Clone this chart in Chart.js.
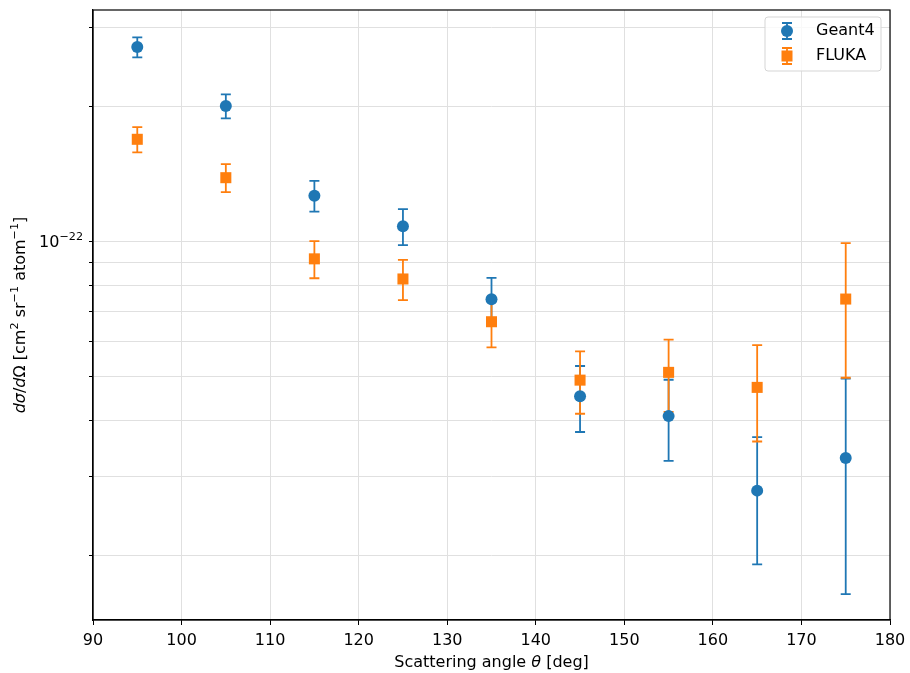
<!DOCTYPE html>
<html>
<head>
<meta charset="utf-8">
<script src="https://cdn.jsdelivr.net/npm/chart.js@4.4.1/dist/chart.umd.min.js"></script>
<style>
  html, body { margin: 0; padding: 0; background: #fff; }
</style>
</head>
<body>
<canvas id="myChart" width="910" height="673"></canvas>
<script>
// scattering angles (deg)
const angles = [95, 105, 115, 125, 135, 145, 155, 165, 175]

// Geant4 values and errors (cm^2 sr^-1 atom^-1)
const geant4 = [2.72e-22, 2.01e-22, 1.268e-22, 1.084e-22, 7.45e-23, 4.53e-23, 4.09e-23, 2.79e-23, 3.30e-23]
const geant4Err = [1.4e-23, 1.24e-23, 1.0e-23, 1.0e-23, 8.7e-24, 7.6e-24, 8.4e-24, 8.8e-24, 1.66e-23]

// FLUKA values and errors
const fluka = [1.694e-22, 1.391e-22, 9.17e-23, 8.27e-23, 6.64e-23, 4.92e-23, 5.12e-23, 4.74e-23, 7.46e-23]
const flukaErr = [1.1e-23, 1.0e-23, 8.7e-24, 8.5e-24, 8.2e-24, 7.8e-24, 9.4e-24, 1.15e-23, 2.48e-23]

// axis ticks
const xTicks = [90, 100, 110, 120, 130, 140, 150, 160, 170, 180]
const yTicks = [2e-23, 3e-23, 4e-23, 5e-23, 6e-23, 7e-23, 8e-23, 9e-23, 1e-22, 2e-22, 3e-22]
const yMajor = 1e-22
const yMajorLabel = [{ t: '10' }, { t: '−22', sup: true }]

const FONT = '"DejaVu Sans", sans-serif'
const SIZE = 16
const BLUE = '#1f77b4'
const ORANGE = '#ff7f0e'

function points(ys) {
    return angles.map((a, i) => ({ x: a, y: ys[i] }))
}

// error bars, drawn under the markers
const errorBars = {
    id: 'errorBars',
    beforeDatasetsDraw(chart) {
        const ctx = chart.ctx
        const xs = chart.scales.x, ys = chart.scales.y
        chart.data.datasets.forEach(ds => {
            ctx.save()
            ctx.strokeStyle = ds.borderColor
            ctx.lineWidth = 1.8
            ds.data.forEach((p, j) => {
                const e = ds.errors[j]
                const px = xs.getPixelForValue(p.x)
                const top = ys.getPixelForValue(p.y + e)
                const bot = ys.getPixelForValue(p.y - e)
                ctx.beginPath()
                ctx.moveTo(px, top); ctx.lineTo(px, bot)
                ctx.moveTo(px - 5, top); ctx.lineTo(px + 5, top)
                ctx.moveTo(px - 5, bot); ctx.lineTo(px + 5, bot)
                ctx.stroke()
            })
            ctx.restore()
        })
    }
}

function runFont(r, size) {
    return (r.it ? 'italic ' : '') + (r.sup ? size * 0.7 : size) + 'px ' + FONT
}

// draws mixed italic / superscript text; align 'center' or 'right' around x=0
function drawRuns(ctx, runs, size, align) {
    let w = 0
    runs.forEach(r => { ctx.font = runFont(r, size); r.w = ctx.measureText(r.t).width; w += r.w })
    let x = align === 'right' ? -w : -w / 2
    runs.forEach(r => {
        ctx.font = runFont(r, size)
        ctx.fillText(r.t, x, r.sup ? -size * 0.36 : 0)
        x += r.w
    })
}

const xTitle = [{ t: 'Scattering angle ' }, { t: 'θ', it: true }, { t: ' [deg]' }]
const yTitle = [
    { t: 'dσ', it: true }, { t: '/' }, { t: 'd', it: true }, { t: 'Ω' },
    { t: ' [cm' }, { t: '2', sup: true }, { t: ' sr' }, { t: '−1', sup: true },
    { t: ' atom' }, { t: '−1', sup: true }, { t: ']' }
]

// frame, axis titles, major y label, legend
const decorations = {
    id: 'decorations',
    afterDraw(chart) {
        const ctx = chart.ctx
        const a = chart.chartArea
        ctx.save()
        ctx.strokeStyle = '#000'
        ctx.lineWidth = 1.2
        ctx.strokeRect(a.left, a.top, a.right - a.left, a.bottom - a.top)

        ctx.fillStyle = '#000'
        ctx.textBaseline = 'middle'
        ctx.textAlign = 'left'
        ctx.save()
        ctx.translate((a.left + a.right) / 2, 663)
        drawRuns(ctx, xTitle, SIZE, 'center')
        ctx.restore()
        ctx.save()
        ctx.translate(21, (a.top + a.bottom) / 2)
        ctx.rotate(-Math.PI / 2)
        drawRuns(ctx, yTitle, SIZE, 'center')
        ctx.restore()

        ctx.save()
        ctx.translate(a.left - 10, chart.scales.y.getPixelForValue(yMajor) + 1)
        drawRuns(ctx, yMajorLabel, SIZE, 'right')
        ctx.restore()

        // legend box
        const bx = 765, by = 17, bw = 116, bh = 54
        ctx.beginPath()
        ctx.roundRect(bx, by, bw, bh, 3)
        ctx.fillStyle = 'rgba(255,255,255,0.8)'
        ctx.fill()
        ctx.strokeStyle = '#d5d5d5'
        ctx.lineWidth = 1
        ctx.stroke()

        chart.data.datasets.forEach((ds, i) => {
            const cy = 31 + i * 25
            const mx = 787
            ctx.strokeStyle = ds.borderColor
            ctx.lineWidth = 1.8
            ctx.beginPath()
            ctx.moveTo(mx, cy - 8); ctx.lineTo(mx, cy + 8)
            ctx.moveTo(mx - 5, cy - 8); ctx.lineTo(mx + 5, cy - 8)
            ctx.moveTo(mx - 5, cy + 8); ctx.lineTo(mx + 5, cy + 8)
            ctx.stroke()
            ctx.fillStyle = ds.backgroundColor
            if (ds.pointStyle === 'circle') {
                ctx.beginPath()
                ctx.arc(mx, cy, 6, 0, Math.PI * 2)
                ctx.fill()
            } else {
                ctx.fillRect(mx - 5.5, cy - 5.5, 11, 11)
            }
            ctx.fillStyle = '#000'
            ctx.font = SIZE + 'px ' + FONT
            ctx.fillText(ds.label, 816, cy)
        })
        ctx.restore()
    }
}

const ctx = document.getElementById('myChart')

const myChart = new Chart(ctx, {
    type: 'scatter',
    data: {
        datasets: [{
            label: 'Geant4',
            data: points(geant4),
            errors: geant4Err,
            pointStyle: 'circle',
            pointRadius: 6,
            pointBorderWidth: 0,
            backgroundColor: BLUE,
            borderColor: BLUE,
            order: 2
        }, {
            label: 'FLUKA',
            data: points(fluka),
            errors: flukaErr,
            pointStyle: 'rect',
            pointRadius: 7.8,
            pointBorderWidth: 0,
            backgroundColor: ORANGE,
            borderColor: ORANGE,
            order: 1
        }]
    },
    options: {
        responsive: false,
        animation: false,
        layout: { padding: { left: 0, right: 20, top: 10, bottom: 0 } },
        plugins: {
            legend: { display: false },
            tooltip: { enabled: false }
        },
        scales: {
            x: {
                type: 'linear',
                min: 90,
                max: 180,
                afterBuildTicks: scale => { scale.ticks = xTicks.map(v => ({ value: v })) },
                afterFit: scale => {
                    scale.height = 53
                    scale.paddingLeft = 0
                    scale.paddingRight = 0
                },
                ticks: { color: '#000', font: { family: FONT, size: SIZE }, padding: 6, autoSkip: false, maxRotation: 0 },
                grid: { color: '#e0e0e0', lineWidth: 1, tickColor: '#000', tickLength: 5 },
                border: { display: true, color: '#000', width: 1.2 }
            },
            y: {
                type: 'logarithmic',
                min: 1.436e-23,
                max: 3.29e-22,
                afterBuildTicks: scale => { scale.ticks = yTicks.map(v => ({ value: v })) },
                afterFit: scale => {
                    scale.width = 93
                    scale.paddingTop = 0
                    scale.paddingBottom = 0
                },
                ticks: {
                    font: { family: FONT, size: SIZE },
                    padding: 3,
                    autoSkip: false,
                    callback: () => ''
                },
                grid: { color: '#e0e0e0', lineWidth: 1, tickColor: '#000', tickLength: 4 },
                border: { display: true, color: '#000', width: 1.2 }
            }
        }
    },
    plugins: [errorBars, decorations]
})
</script>
</body>
</html>
